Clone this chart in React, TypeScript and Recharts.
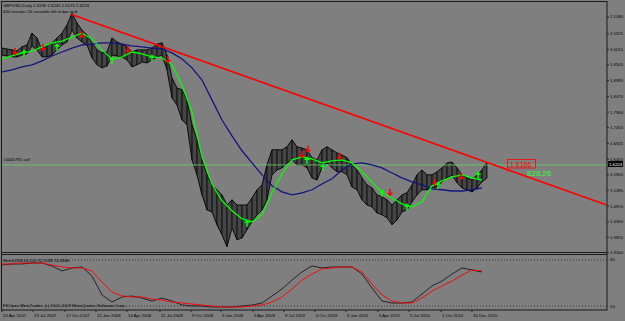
import React from 'react';
import { ComposedChart, Line, Bar, Area, Scatter, XAxis, YAxis, ReferenceLine } from 'recharts';

// daily bars sampled every 10 bars (high / low envelope of each sample)
const priceHigh = [
  2.006, 2.003, 2.0, 1.996, 2.01, 2.016, 2.055, 2.039, 2.0, 2.016,
  2.023, 2.039, 2.055, 2.082, 2.121, 2.088, 2.065, 2.049, 2.023, 2.0,
  1.99, 1.993, 2.039, 2.026, 2.019, 2.01, 1.993, 2.0, 2.0, 2.0,
  2.006, 2.019, 2.023, 1.983, 1.908, 1.875, 1.869, 1.836, 1.754, 1.705,
  1.639, 1.59, 1.557, 1.541, 1.524, 1.491, 1.508, 1.491, 1.491, 1.491,
  1.514, 1.541, 1.557, 1.623, 1.672, 1.672, 1.672, 1.682, 1.705, 1.682,
  1.678, 1.672, 1.646, 1.639, 1.672, 1.682, 1.672, 1.662, 1.655, 1.646,
  1.623, 1.606, 1.58, 1.557, 1.547, 1.524, 1.518, 1.508, 1.491, 1.508,
  1.524, 1.531, 1.557, 1.59, 1.606, 1.59, 1.59, 1.6, 1.613, 1.629,
  1.632, 1.613, 1.59, 1.58, 1.573, 1.59, 1.606, 1.632,
];
const priceLow = [
  1.983, 1.98, 1.977, 1.977, 1.983, 1.987, 2.013, 2.0, 1.977, 1.977,
  1.983, 2.0, 2.016, 2.026, 2.065, 2.039, 2.026, 2.016, 1.974, 1.951,
  1.941, 1.947, 1.983, 1.98, 1.977, 1.967, 1.944, 1.951, 1.96, 1.957,
  1.967, 1.977, 1.983, 1.934, 1.842, 1.819, 1.77, 1.754, 1.639, 1.59,
  1.524, 1.475, 1.468, 1.426, 1.393, 1.354, 1.416, 1.377, 1.383, 1.41,
  1.436, 1.459, 1.475, 1.508, 1.59, 1.606, 1.613, 1.629, 1.639, 1.623,
  1.623, 1.613, 1.58, 1.573, 1.613, 1.629, 1.613, 1.6, 1.6, 1.59,
  1.55, 1.541, 1.508, 1.491, 1.485, 1.465, 1.459, 1.449, 1.426, 1.442,
  1.468, 1.475, 1.501, 1.524, 1.541, 1.541, 1.547, 1.55, 1.567, 1.58,
  1.59, 1.564, 1.547, 1.541, 1.534, 1.547, 1.567, 1.58,
];
const BAR_STEP = 10;

// moving averages and stochastic, every 20 bars
const fastMa = [
  1.97, 1.98, 1.99, 1.996, 2.01, 2.023, 2.029, 2.042, 2.055, 2.036,
  2.0, 1.97, 1.977, 1.993, 1.987, 1.977, 1.974, 1.951, 1.885, 1.796,
  1.649, 1.56, 1.505, 1.472, 1.446, 1.436, 1.459, 1.531, 1.593, 1.639,
  1.649, 1.642, 1.629, 1.636, 1.639, 1.629, 1.6, 1.567, 1.531, 1.514,
  1.495, 1.485, 1.501, 1.554, 1.57, 1.583, 1.59, 1.58, 1.573,
];
const slowMa = [
  1.928, 1.934, 1.944, 1.951, 1.964, 1.98, 1.993, 2.006, 2.016, 2.019,
  2.023, 2.023, 2.019, 2.013, 2.01, 2.006, 2.003, 1.99, 1.97, 1.941,
  1.901, 1.836, 1.77, 1.718, 1.669, 1.629, 1.59, 1.554, 1.534, 1.524,
  1.531, 1.541, 1.56, 1.577, 1.606, 1.626, 1.629, 1.623, 1.613, 1.596,
  1.58, 1.567, 1.557, 1.544, 1.541, 1.537, 1.537, 1.541, 1.547,
];
const stochMain = [
  73.5, 74.8, 74.8, 76.1, 76.1, 72.2, 65.7, 69.6, 70.9, 59.1,
  34.4, 25.2, 31.8, 33.1, 30.4, 26.5, 30.4, 26.5, 21.3, 20.0,
  20.0, 18.7, 18.7, 18.7, 20.0, 21.3, 23.9, 33.1, 42.2, 53.9,
  64.4, 72.2, 69.6, 70.9, 70.9, 70.9, 61.7, 43.5, 26.5, 23.9,
  23.9, 25.2, 35.7, 46.1, 52.6, 61.7, 69.6, 67.0, 64.4,
];
const stochSignal = [
  74.8, 74.8, 76.1, 76.1, 76.1, 73.5, 70.9, 69.6, 69.6, 65.7,
  51.3, 38.3, 33.1, 31.8, 31.8, 29.1, 27.8, 25.2, 23.9, 22.6,
  21.3, 20.0, 18.7, 18.7, 18.7, 20.0, 21.3, 25.2, 31.8, 42.2,
  53.9, 61.7, 68.3, 69.6, 70.9, 70.9, 64.4, 48.7, 34.4, 26.5,
  23.9, 23.9, 30.4, 39.6, 46.1, 52.6, 60.4, 67.0, 65.7,
];
const MA_STEP = 20;

const sellBars = [26, 82, 160, 252, 332, 600, 612, 676, 776, 866, 918];
const sellPrices = [1.993, 2.006, 2.049, 2.0, 1.967, 1.655, 1.672, 1.649, 1.531, 1.564, 1.583];
const buyBars = [44, 110, 220, 300, 490, 610, 642, 760, 810, 872, 952];
const buyPrices = [1.99, 2.01, 1.967, 1.974, 1.433, 1.639, 1.616, 1.531, 1.485, 1.557, 1.59];

const trendBars = [138, 1208];
const trendPrices = [2.117, 1.4915];

const priceTicks = [2.108, 2.0525, 2.0015, 1.9505, 1.8995, 1.847, 1.796, 1.745, 1.6925, 1.641, 1.5905, 1.5395, 1.487, 1.436, 1.385, 1.334];
const dateTicks = [0, 62, 126, 188, 250, 316, 378, 438, 502, 564, 626, 688, 752, 814, 878, 940];
const dateLabels = ['20 Apr 2007', '19 Jul 2007', '17 Oct 2007', '15 Jan 2008', '14 Apr 2008', '11 Jul 2008', '9 Oct 2008', '9 Jan 2009', '9 Apr 2009', '9 Jul 2009', '6 Oct 2009', '6 Jan 2010', '6 Apr 2010', '5 Jul 2010', '1 Oct 2010', '30 Dec 2010'];

const lastClose = 1.6224;
const FONT = '"Liberation Sans", Arial, sans-serif';
const BG = '#7f7f7f';
const X_DOMAIN: [number, number] = [0, 1210];

const priceData = priceHigh.map((h, i) => ({
  t: i * BAR_STEP,
  rng: [priceLow[i], h],
  fast: i % 2 === 0 ? fastMa[i / 2] : undefined,
  slow: i % 2 === 0 ? slowMa[i / 2] : undefined,
}));
const stochData = stochMain.map((k, i) => ({ t: i * MA_STEP, k, d: stochSignal[i] }));
const trendData = trendBars.map((t, i) => ({ t, p: trendPrices[i] }));
const sellData = sellBars.map((t, i) => ({ t, p: sellPrices[i] }));
const buyData = buyBars.map((t, i) => ({ t, p: buyPrices[i] }));

const PriceTick = (props: any) => {
  const { x, y, payload } = props;
  return (
    <g>
      <line x1={x} y1={y} x2={x + 2} y2={y} stroke="#000" strokeWidth={0.7} />
      <text x={x + 3} y={y + 1.5} fontSize={4.3} fontFamily={FONT} fill="#000">
        {payload.value.toFixed(4)}
      </text>
    </g>
  );
};

const DateTick = (props: any) => {
  const { x, y, payload } = props;
  const label = dateLabels[dateTicks.indexOf(payload.value)];
  return (
    <g>
      <line x1={x} y1={y} x2={x} y2={y + 2} stroke="#000" strokeWidth={0.7} />
      <text x={x + 1} y={y + 7} fontSize={4.3} fontFamily={FONT} fill="#000">
        {label}
      </text>
    </g>
  );
};

const StochTick = (props: any) => {
  const { x, y, payload } = props;
  return (
    <text x={x + 3} y={y + 1.5} fontSize={4.3} fontFamily={FONT} fill="#000">
      {payload.value}
    </text>
  );
};

const SellArrow = (props: any) => {
  const { cx, cy } = props;
  return (
    <g>
      <line x1={cx} y1={cy - 4} x2={cx} y2={cy + 1} stroke="#ff0000" strokeWidth={1.6} />
      <path d={`M${cx - 3},${cy} L${cx + 3},${cy} L${cx},${cy + 3.5} Z`} fill="#ff0000" />
    </g>
  );
};

const BuyArrow = (props: any) => {
  const { cx, cy } = props;
  return (
    <g>
      <line x1={cx} y1={cy + 4} x2={cx} y2={cy - 1} stroke="#00ff00" strokeWidth={1.6} />
      <path d={`M${cx - 3},${cy} L${cx + 3},${cy} L${cx},${cy - 3.5} Z`} fill="#00ff00" />
    </g>
  );
};

export default function App() {
  return (
    <div style={{ position: 'fixed', left: 0, top: 0, width: 625, height: 321, background: BG, overflow: 'hidden' }}>
      <div style={{ position: 'absolute', left: 0, top: 0 }}>
        <ComposedChart width={625} height={257} data={priceData} margin={{ top: 2, right: 0, left: 2, bottom: 4 }}>
          <XAxis dataKey="t" type="number" domain={X_DOMAIN} hide allowDataOverflow />
          <YAxis
            orientation="right"
            width={18}
            domain={[1.3335, 2.1571]}
            ticks={priceTicks}
            interval={0}
            tick={<PriceTick />}
            tickLine={false}
            axisLine={false}
            tickSize={0}
            tickMargin={0}
            allowDataOverflow
          />
          <ReferenceLine y={lastClose} stroke="#66d466" strokeWidth={0.8} />
          <Area dataKey="rng" type="linear" fill="#000" fillOpacity={0.45} stroke="#000" strokeWidth={0.9} isAnimationActive={false} />
          <Bar dataKey="rng" barSize={1} fill="#000" isAnimationActive={false} />
          <Line dataKey="slow" stroke="#14147e" strokeWidth={1.3} dot={false} connectNulls isAnimationActive={false} />
          <Line dataKey="fast" stroke="#00ff00" strokeWidth={1.3} dot={false} connectNulls isAnimationActive={false} />
          <Line data={trendData} dataKey="p" stroke="#ff0000" strokeWidth={1.6} dot={false} isAnimationActive={false} />
          <Scatter data={sellData} dataKey="p" shape={<SellArrow />} isAnimationActive={false} />
          <Scatter data={buyData} dataKey="p" shape={<BuyArrow />} isAnimationActive={false} />
        </ComposedChart>
      </div>
      <div style={{ position: 'absolute', left: 0, top: 253 }}>
        <ComposedChart width={625} height={68} data={stochData} margin={{ top: 2, right: 0, left: 2, bottom: 0 }}>
          <XAxis
            dataKey="t"
            type="number"
            domain={X_DOMAIN}
            ticks={dateTicks}
            interval={0}
            tick={<DateTick />}
            tickLine={false}
            axisLine={false}
            tickSize={0}
            tickMargin={0}
            height={11}
            allowDataOverflow
          />
          <YAxis
            orientation="right"
            width={18}
            domain={[14.8, 86.5]}
            ticks={[80, 20]}
            interval={0}
            tick={<StochTick />}
            tickLine={false}
            axisLine={false}
            tickSize={0}
            tickMargin={0}
            allowDataOverflow
          />
          <ReferenceLine y={80} stroke="#1a1a1a" strokeWidth={0.7} strokeDasharray="1 2" />
          <ReferenceLine y={20} stroke="#1a1a1a" strokeWidth={0.7} strokeDasharray="1 2" />
          <Line dataKey="k" stroke="#1a1a1a" strokeWidth={0.9} dot={false} isAnimationActive={false} />
          <Line dataKey="d" stroke="#ff0000" strokeWidth={0.9} dot={false} isAnimationActive={false} />
        </ComposedChart>
      </div>
      <svg width={625} height={321} style={{ position: 'absolute', left: 0, top: 0, pointerEvents: 'none' }}>
        <rect x={1.5} y={1.5} width={605.5} height={308.5} fill="none" stroke="#1a1a1a" strokeWidth={1} />
        <line x1={1} y1={252.5} x2={607} y2={252.5} stroke="#1a1a1a" strokeWidth={1} />
        <line x1={1} y1={254.5} x2={607} y2={254.5} stroke="#1a1a1a" strokeWidth={1} />
        <g fontFamily={FONT} fontSize={4.3} fill="#000">
          <text x={3} y={7}>GBPUSD,Daily  1.6190 1.6245 1.6175 1.6224</text>
          <text x={3} y={13}>620 minutes 26 seconds left to bar end</text>
          <text x={3} y={161}>#0440791 sell</text>
          <text x={3} y={262}>Stoch(208,50,50) 71.5248 74.3686</text>
          <text x={3} y={307}>FXOpen MetaTrader, (c) 2001-2009 MetaQuotes Software Corp.</text>
        </g>
        <rect x={608} y={161} width={15} height={6} fill="#000" />
        <text x={609} y={165.8} fontFamily={FONT} fontSize={4.3} fill="#fff">1.6224</text>
        <rect x={507.5} y={159.5} width={28} height={8.5} fill="none" stroke="#ff0000" strokeWidth={0.8} />
        <text x={510} y={166.5} fontFamily={FONT} fontSize={7} fill="#ff0000">1.6166</text>
        <text x={506} y={173} fontFamily={FONT} fontSize={6} fill="#ff0000">&lt;</text>
        <text x={527} y={176} fontFamily={FONT} fontSize={8} fill="#33ff33">828.26</text>
      </svg>
    </div>
  );
}
